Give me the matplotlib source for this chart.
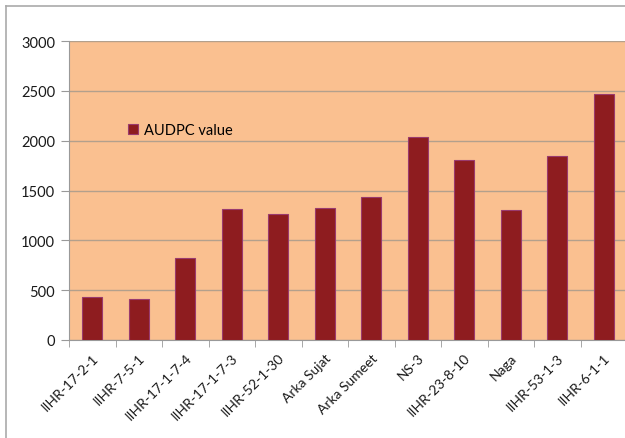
import matplotlib
matplotlib.use("Agg")
import matplotlib.pyplot as plt
from matplotlib.lines import Line2D

genotypes = ["IIHR-17-2-1", "IIHR-7-5-1", "IIHR-17-1-7-4", "IIHR-17-1-7-3",
             "IIHR-52-1-30", "Arka Sujat", "Arka Sumeet", "NS-3",
             "IIHR-23-8-10", "Naga", "IIHR-53-1-3", "IIHR-6-1-1"]
audpc = [430, 415, 822, 1312, 1268, 1320, 1432, 2035, 1808, 1300, 1850, 2465]
yticks = [0, 500, 1000, 1500, 2000, 2500, 3000]

plt.rcParams["font.family"] = ["Lato", "DejaVu Sans"]

fig = plt.figure(figsize=(6.25, 4.39), dpi=100)
ax = fig.add_axes([69 / 625, 1 - 341 / 439, 558 / 625, 299 / 439])
ax.set_facecolor("#FAC090")

x = list(range(len(genotypes)))
ax.bar(x, audpc, width=0.42, color="#8E1C1F", edgecolor="#9A3A6E",
       linewidth=0.8, zorder=3, label="AUDPC value")

ax.set_xlim(-0.5, len(genotypes) - 0.5)
ax.set_ylim(0, 3000)
ax.set_yticks(yticks)
ax.yaxis.grid(True, color="#B3A08C", linewidth=1.0, zorder=1)
ax.set_axisbelow(True)

# category boundaries get the tick marks, labels sit under the bars
ax.set_xticks([i - 0.5 for i in range(len(genotypes) + 1)], minor=True)
ax.set_xticks(x)
ax.set_xticklabels(genotypes, rotation=45, ha="right", va="top",
                   rotation_mode="anchor", fontsize=10, color="#1a1a1a")
ax.tick_params(axis="x", which="major", length=0, pad=8)
ax.tick_params(axis="x", which="minor", length=5, color="#999999")
ax.tick_params(axis="y", length=6, color="#999999", labelsize=10.5,
               labelcolor="#1a1a1a", pad=4)

for side in ["top", "right"]:
    ax.spines[side].set_visible(False)
ax.spines["left"].set_color("#999999")
ax.spines["bottom"].set_color("#999999")

ax.legend(loc="upper left", bbox_to_anchor=(0.095, 0.745), frameon=False,
          fontsize=10.5, handlelength=0.7, handleheight=0.7,
          handletextpad=0.4, borderaxespad=0)

# outer chart frame
fig.add_artist(Line2D([6 / 625, 1.0], [1 - 7 / 439, 1 - 7 / 439],
                      color="#AAAAAA", linewidth=1.2, transform=fig.transFigure))
fig.add_artist(Line2D([6 / 625, 6 / 625], [0, 1 - 7 / 439],
                      color="#AAAAAA", linewidth=1.2, transform=fig.transFigure))

fig.savefig("out.png", dpi=100)
